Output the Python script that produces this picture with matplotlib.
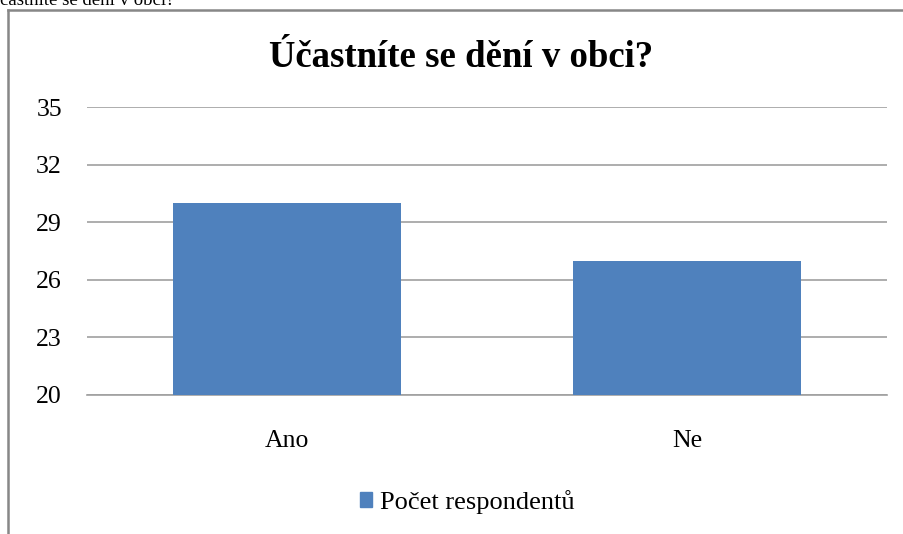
import matplotlib
matplotlib.use('Agg')
import matplotlib.pyplot as plt
from matplotlib.lines import Line2D
from matplotlib.patches import Patch

categories = ['Ano', 'Ne']
values = [30, 27]
series_name = 'Počet respondentů'
title = 'Účastníte se dění v obci?'
yticks = [20, 23, 26, 29, 32, 35]


def main():
    plt.rcParams['font.family'] = ['Liberation Serif', 'DejaVu Serif']
    fig = plt.figure(figsize=(9.04, 5.34), dpi=100)
    ax = fig.add_axes([0.0962, 0.2603, 0.885, 0.5393])

    x = range(len(categories))
    ax.bar(x, values, width=0.57, color='#4f81bd', zorder=3)

    ax.set_xlim(-0.5, len(categories) - 0.5)
    ax.set_ylim(yticks[0], yticks[-1])
    ax.set_yticks(yticks)
    ax.set_xticks(list(x))
    ax.set_xticklabels(categories)
    ax.yaxis.grid(True, color='#a0a0a0', linewidth=1.2, zorder=0)
    ax.tick_params(axis='y', length=0, pad=18, labelsize=18.5)
    ax.tick_params(axis='x', length=0, pad=25, labelsize=18.5)
    for side in ['top', 'right', 'left']:
        ax.spines[side].set_visible(False)
    ax.spines['bottom'].set_color('#a0a0a0')
    ax.spines['bottom'].set_linewidth(1.2)

    fig.text(0.51, 0.892, title, ha='center', va='center',
             fontsize=26.5, fontweight='bold')

    # cut-off text from the document above the chart
    fig.text(0.0, 0.9906, title[1:], ha='left', va='baseline', fontsize=13.5)

    # chart frame
    fig.add_artist(Line2D([8 / 904, 8 / 904], [0, 524 / 534], color='#878787', linewidth=1.8))
    fig.add_artist(Line2D([8 / 904, 1], [524 / 534, 524 / 534], color='#878787', linewidth=1.8))

    handles = [Patch(color='#4f81bd', label=series_name)]
    fig.legend(handles=handles, loc='center', bbox_to_anchor=(0.517, 0.06),
               frameon=False, fontsize=19, handlelength=0.45, handleheight=0.45,
               handletextpad=0.3)

    fig.savefig('out.png', dpi=100)


if __name__ == '__main__':
    main()
